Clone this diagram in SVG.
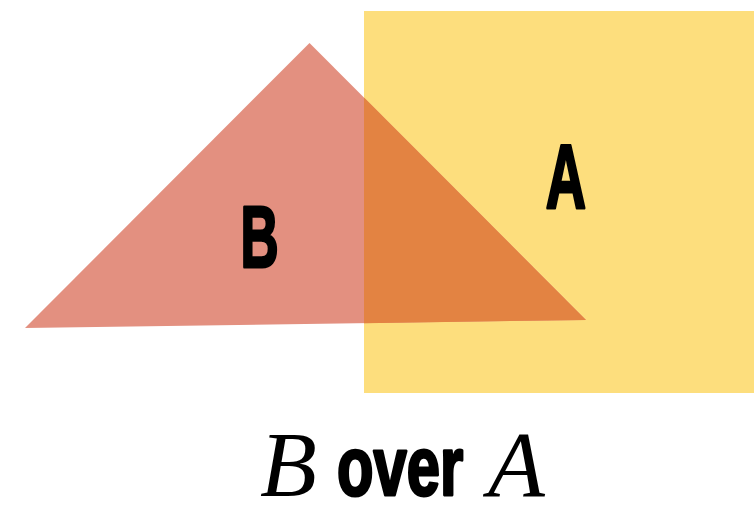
<svg xmlns="http://www.w3.org/2000/svg" width="754" height="508" viewBox="0 0 754 508">
<style>
.cond{font-family:"Liberation Sans",Arial,sans-serif;font-weight:bold;fill:#000;stroke:#000;stroke-width:3;stroke-linejoin:round}
.ital{font-family:"Liberation Serif","Times New Roman",serif;font-style:italic;fill:#000}
</style>
<defs>
<clipPath id="rectClip"><rect x="364" y="11" width="390" height="382"/></clipPath>
<polygon id="tri" points="309.5,43 25,328 586,320"/>
</defs>
<rect width="754" height="508" fill="#ffffff"/>
<g id="A">
<rect x="364" y="11" width="390" height="382" fill="#FDDE7D"/>
<text class="cond" font-size="90" text-anchor="middle" transform="translate(566,208) scale(0.62,1)">A</text>
</g>
<g id="B">
<use href="#tri" fill="#E39080"/>
<use href="#tri" fill="#E38342" clip-path="url(#rectClip)"/>
<text class="cond" font-size="88" text-anchor="middle" transform="translate(259.5,267) scale(0.6,1)">B</text>
</g>
<g id="caption">
<text class="ital" font-size="93" x="260" y="496">B</text>
<text class="cond" font-size="83" transform="translate(337,495) scale(0.72,1)">over</text>
<text class="ital" font-size="93" x="488" y="496">A</text>
</g>
</svg>
